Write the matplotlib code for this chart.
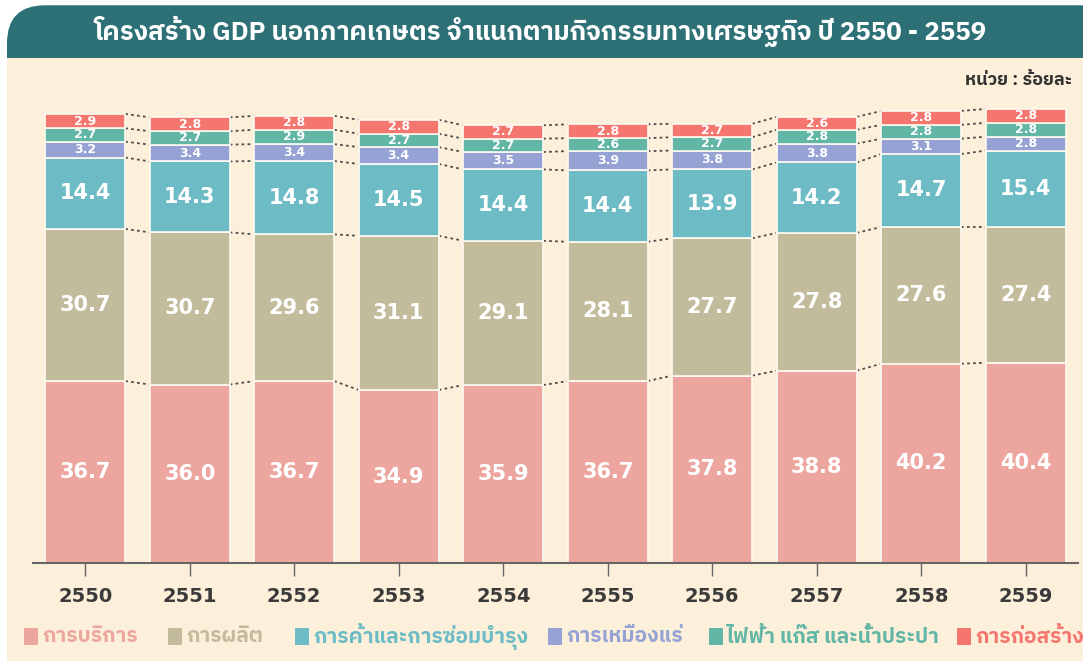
import numpy as np
import matplotlib
matplotlib.use("Agg")
import matplotlib.pyplot as plt
from matplotlib import font_manager
from matplotlib.ft2font import FT2Font
from matplotlib.patches import Rectangle, FancyBboxPatch

# --- Datos (ร้อยละ) ---
anios = ['2550', '2551', '2552', '2553', '2554', '2555', '2556', '2557', '2558', '2559']
servicios = [36.7, 36.0, 36.7, 34.9, 35.9, 36.7, 37.8, 38.8, 40.2, 40.4]
produccion = [30.7, 30.7, 29.6, 31.1, 29.1, 28.1, 27.7, 27.8, 27.6, 27.4]
comercio = [14.4, 14.3, 14.8, 14.5, 14.4, 14.4, 13.9, 14.2, 14.7, 15.4]
mineria = [3.2, 3.4, 3.4, 3.4, 3.5, 3.9, 3.8, 3.8, 3.1, 2.8]
electricidad = [2.7, 2.7, 2.9, 2.7, 2.7, 2.6, 2.7, 2.8, 2.8, 2.8]
construccion = [2.9, 2.8, 2.8, 2.8, 2.7, 2.8, 2.7, 2.6, 2.8, 2.8]

nombres = ['การบริการ', 'การผลิต', 'การค้าและการซ่อมบำรุง', 'การเหมืองแร่',
           'ไฟฟ้า แก๊ส และน้ำประปา', 'การก่อสร้าง']
titulo = 'โครงสร้าง GDP นอกภาคเกษตร จำแนกตามกิจกรรมทางเศรษฐกิจ ปี 2550 - 2559'
unidad = 'หน่วย : ร้อยละ'

colores = ['#eda69f', '#c2bc9c', '#6dbcc5', '#95a2d3', '#62b6a5', '#f4766f']
FONDO = '#fdf0da'
TEAL = '#2d7177'


def buscar_fuente_thai():
    # busca las fuentes instaladas que tengan glifos tailandeses
    encontradas = []
    for f in font_manager.fontManager.ttflist:
        try:
            cmap = FT2Font(f.fname).get_charmap()
        except Exception:
            continue
        if 0x0E01 in cmap:
            encontradas.append(f.name)
    # preferimos una sin bucles (estilo moderno), si existe
    for nombre in encontradas:
        if 'Thai' in nombre and 'Looped' not in nombre:
            return nombre
    return encontradas[0] if encontradas else None


thai = buscar_fuente_thai()
familias = ([thai] if thai else []) + ['DejaVu Sans']
print('Fuente thai:', thai)
plt.rcParams['font.family'] = familias

fig = plt.figure(figsize=(10.83, 6.61), dpi=100)
fig.patch.set_facecolor('white')

# panel crema y barra del título (detrás de los ejes)
fig.patches.append(FancyBboxPatch((7 / 1083, 0.55), 1.1, 0.442,
                                  boxstyle='round,pad=0,rounding_size=0.035',
                                  transform=fig.transFigure, facecolor=TEAL,
                                  edgecolor='none', zorder=-2,
                                  mutation_aspect=1083 / 661))
fig.patches.append(Rectangle((7 / 1083, 0), 1.0, 1 - 58 / 661,
                             transform=fig.transFigure, facecolor=FONDO,
                             edgecolor='none', zorder=-1))

fig.text(540 / 1083, 1 - 31 / 661, titulo, color='white', fontsize=18.5,
         fontweight='bold', ha='center', va='center')
fig.text(1072 / 1083, 1 - 80 / 661, unidad, color='#333333', fontsize=13,
         fontweight='bold', ha='right', va='center')

ax = fig.add_axes([33 / 1083, 98 / 661, 1045 / 1083, 461 / 661])
ax.set_facecolor('none')

series = [servicios, produccion, comercio, mineria, electricidad, construccion]
x = np.arange(len(anios))
ancho = 0.765
base = np.zeros(len(anios))
niveles = []
for i, (vals, col) in enumerate(zip(series, colores)):
    vals = np.array(vals)
    ax.bar(x, vals, ancho, bottom=base, color=col, edgecolor='#fffaf0',
           linewidth=1.2, zorder=2)
    tam = 15 if i < 3 else 9
    for xi, b, v in zip(x, base, vals):
        ax.text(xi, b + v / 2, f'{v:.1f}', ha='center', va='center',
                color='white', fontsize=tam, fontweight='bold',
                family='DejaVu Sans', zorder=3)
    base = base + vals
    niveles.append(base.copy())

# líneas punteadas entre barras
for nivel in niveles:
    for i in range(len(anios) - 1):
        ax.plot([x[i] + ancho / 2, x[i + 1] - ancho / 2], [nivel[i], nivel[i + 1]],
                linestyle=(0, (1.5, 1.8)), color='#4d4d4d', linewidth=1.3, zorder=1)

ax.set_xlim(-0.5, len(anios) - 0.5)
ax.set_ylim(0, 93)
ax.set_yticks([])
for lado in ['top', 'right', 'left']:
    ax.spines[lado].set_visible(False)
ax.spines['bottom'].set_color('#666666')
ax.spines['bottom'].set_linewidth(1.5)
ax.set_xticks(x)
ax.set_xticklabels(anios, fontsize=14, fontweight='bold', color='#3a3a3a',
                   family='DejaVu Sans')
ax.tick_params(axis='x', direction='out', length=9, width=1, color='#666666', pad=8)

# leyenda manual
pos_x = [24, 168, 295, 548, 709, 957]
for px, nombre, col in zip(pos_x, nombres, colores):
    fig.patches.append(Rectangle((px / 1083, 1 - 645 / 661), 14 / 1083, 17 / 661,
                                 transform=fig.transFigure, facecolor=col,
                                 edgecolor='none', zorder=3))
    fig.text((px + 18) / 1083, 1 - 637 / 661, nombre, color=col, fontsize=15,
             fontweight='bold', ha='left', va='center')

fig.savefig('out.png', dpi=100, facecolor=fig.get_facecolor())
plt.close(fig)
